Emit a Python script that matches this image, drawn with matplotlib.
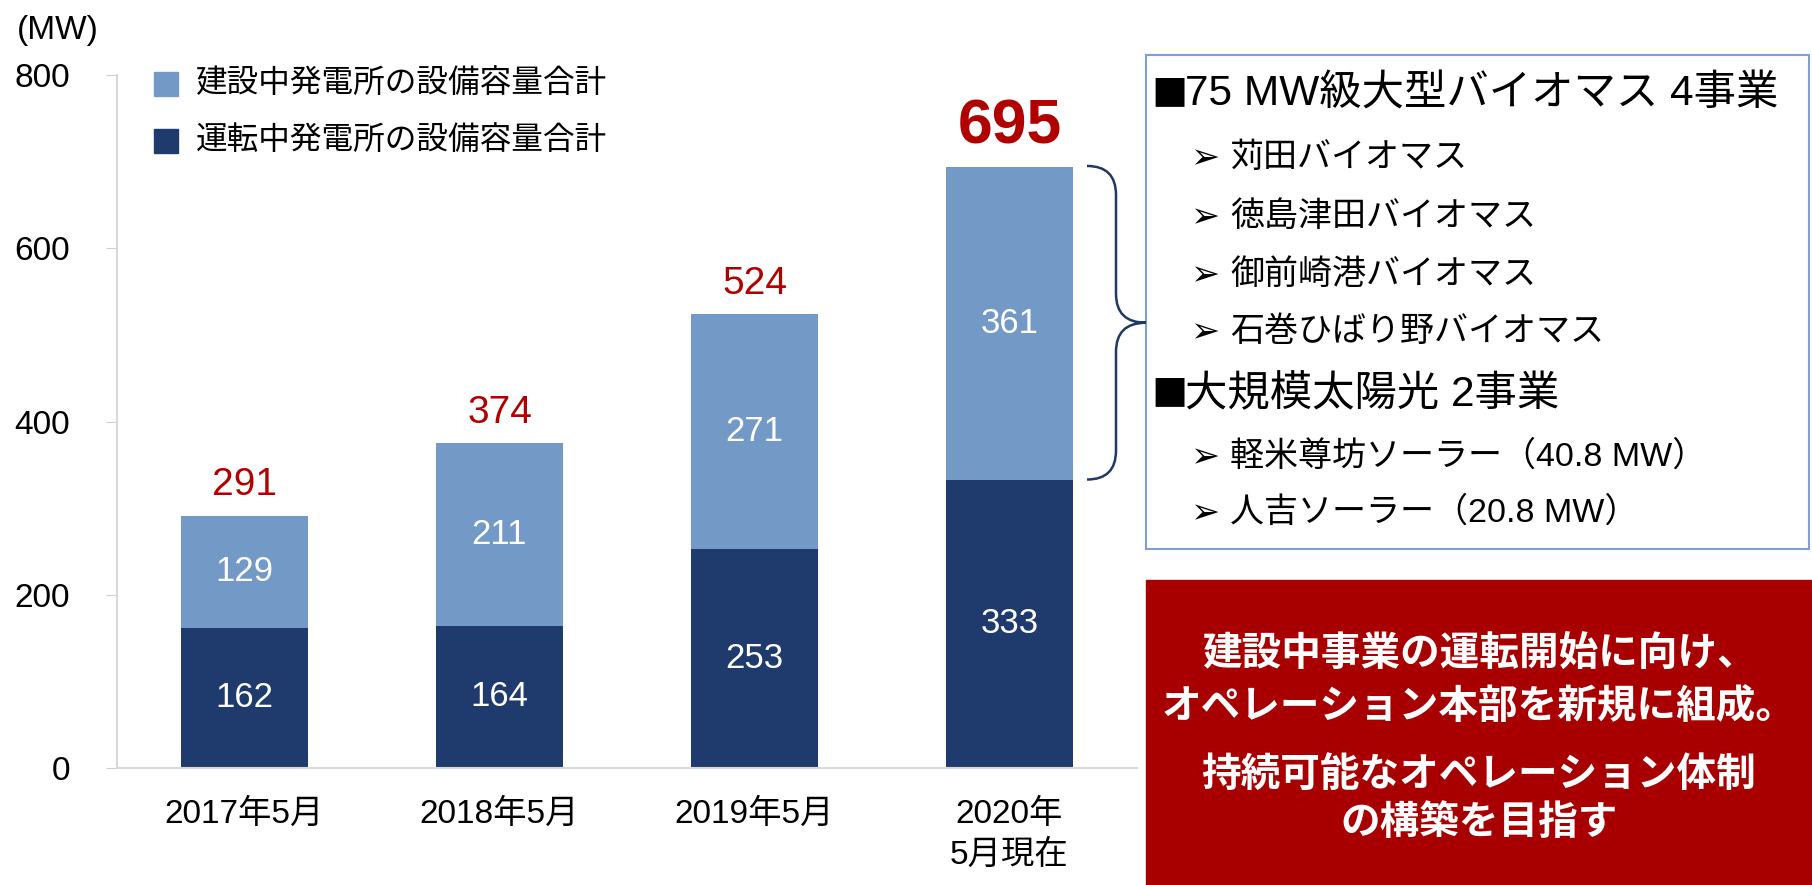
import matplotlib
matplotlib.use("Agg")
import matplotlib.pyplot as plt
from matplotlib.patches import Rectangle, PathPatch
from matplotlib.path import Path

plt.rcParams['font.family'] = ['Liberation Sans', 'Noto Sans CJK JP', 'DejaVu Sans']

# データ
categories = ['2017年5月', '2018年5月', '2019年5月', '2020年\n5月現在']
operating = [162, 164, 253, 333]      # 運転中
construction = [129, 211, 271, 361]   # 建設中
totals = [291, 374, 524, 695]
yticks = [0, 200, 400, 600, 800]

legend_labels = ['建設中発電所の設備容量合計', '運転中発電所の設備容量合計']
box_lines = [
    ('75 MW級大型バイオマス 4事業', True),
    ('苅田バイオマス', False),
    ('徳島津田バイオマス', False),
    ('御前崎港バイオマス', False),
    ('石巻ひばり野バイオマス', False),
    ('大規模太陽光 2事業', True),
    ('軽米尊坊ソーラー（40.8 MW）', False),
    ('人吉ソーラー（20.8 MW）', False),
]
red_lines = ['建設中事業の運転開始に向け、', 'オペレーション本部を新規に組成。',
             '持続可能なオペレーション体制', 'の構築を目指す']

light = '#7399C6'
navy = '#1F3A6D'
red_txt = '#B00000'

W, H = 1812, 885
fig = plt.figure(figsize=(W / 100, H / 100), dpi=100)


def fx(x):
    return x / W


def fy(y):
    return 1 - y / H


ax = fig.add_axes([fx(117), fy(768), (1137 - 117) / W, (768 - 75) / H])
x = range(len(categories))
ax.bar(x, operating, width=0.5, color=navy, zorder=2)
ax.bar(x, construction, width=0.5, bottom=operating, color=light, zorder=2)

ax.set_xlim(-0.5, 3.5)
ax.set_ylim(0, 800)
ax.set_yticks(yticks)
ax.set_xticks(list(x))
ax.set_xticklabels(categories, fontsize=24, linespacing=1.4)
ax.tick_params(axis='y', labelsize=24, length=8, color='#d0d0d0', pad=26)
ax.tick_params(axis='x', length=0, pad=22)
for s in ['top', 'right']:
    ax.spines[s].set_visible(False)
ax.spines['left'].set_color('#d9d9d9')
ax.spines['bottom'].set_color('#d9d9d9')
ax.spines['left'].set_linewidth(1.5)
ax.spines['bottom'].set_linewidth(1.5)

for i in x:
    ax.text(i, operating[i] / 2, str(operating[i]), ha='center', va='center',
            color='white', fontsize=25, zorder=3)
    ax.text(i, operating[i] + construction[i] / 2, str(construction[i]),
            ha='center', va='center', color='white', fontsize=25, zorder=3)
    if i < 3:
        ax.annotate(str(totals[i]), (i, totals[i]), xytext=(0, 22),
                    textcoords='offset points', ha='center', va='center',
                    color=red_txt, fontsize=28)
    else:
        ax.annotate(str(totals[i]), (i, totals[i]), xytext=(0, 28),
                    textcoords='offset points', ha='center', va='center',
                    color=red_txt, fontsize=45, fontweight='bold')

fig.text(fx(17), fy(30), '(MW)', fontsize=24, ha='left', va='center')

# 凡例
for k, (lab, col) in enumerate(zip(legend_labels, [light, navy])):
    yc = 84 + 57 * k
    fig.add_artist(Rectangle((fx(154), fy(yc + 12)), 24 / W, 24 / H,
                             transform=fig.transFigure, color=col))
    fig.text(fx(196), fy(yc), lab, fontsize=22.8, ha='left', va='center')

# 右の枠
fig.add_artist(Rectangle((fx(1146), fy(549)), (1809 - 1146) / W, (549 - 55) / H,
                         transform=fig.transFigure, fill=False,
                         edgecolor='#7F9FCF', linewidth=1.5))
line_y = [95, 158, 217, 275, 332, 395, 457, 513]
for (txt, head), yy in zip(box_lines, line_y):
    if head:
        fig.text(fx(1169), fy(yy), '■', fontsize=26, ha='center', va='center',
                 family=['Noto Sans CJK JP'])
        fig.text(fx(1185), fy(yy), txt, fontsize=30.5, ha='left', va='center')
    else:
        fig.text(fx(1205), fy(yy), '➢', fontsize=25, ha='center', va='center',
                 family=['DejaVu Sans'])
        fig.text(fx(1230), fy(yy), txt, fontsize=24.5, ha='left', va='center')

# 波括弧
to_fig = ax.transData + fig.transFigure.inverted()
yt = to_fig.transform((0, totals[3]))[1]
yb = to_fig.transform((0, operating[3]))[1]
ym = (yt + yb) / 2
rx, ry = 29 / W, 29 / H
x0, x1, x2 = fx(1087), fx(1116), fx(1146)
verts = [(x0, yt), (x1, yt), (x1, yt - ry), (x1, ym + ry), (x1, ym), (x2, ym),
         (x1, ym), (x1, ym - ry), (x1, yb + ry), (x1, yb), (x0, yb)]
codes = [Path.MOVETO, Path.CURVE3, Path.CURVE3, Path.LINETO, Path.CURVE3, Path.CURVE3,
         Path.CURVE3, Path.CURVE3, Path.LINETO, Path.CURVE3, Path.CURVE3]
fig.add_artist(PathPatch(Path(verts, codes), transform=fig.transFigure,
                         fill=False, edgecolor='#1F3864', linewidth=1.8))

# 赤い枠
fig.add_artist(Rectangle((fx(1146), 0), (W - 1146) / W, (885 - 580) / H,
                         transform=fig.transFigure, color='#A80000'))
for txt, yy in zip(red_lines, [655, 707, 775, 823]):
    fig.text(fx(1479), fy(yy), txt, fontsize=28.5, fontweight='bold', color='white',
             ha='center', va='center')

fig.savefig('out.png', dpi=100)
